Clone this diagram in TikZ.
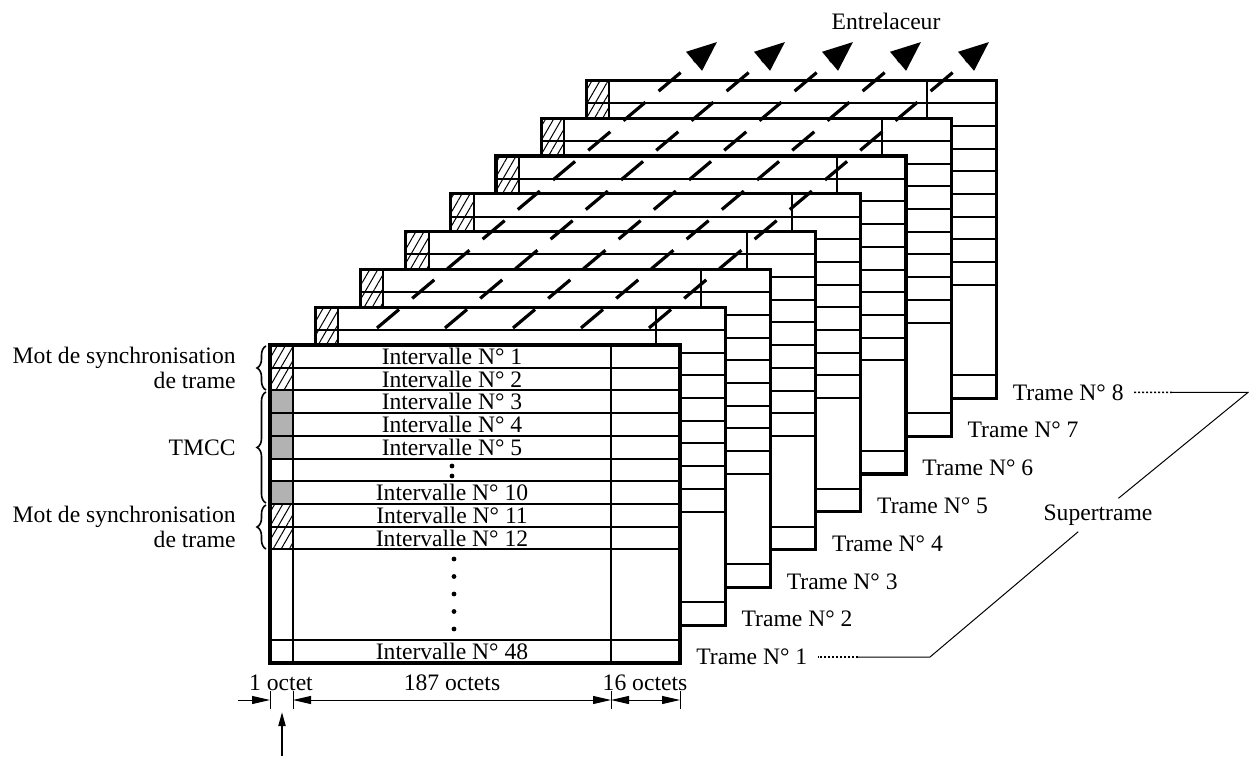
\documentclass[tikz,border=0pt]{standalone}
\usepackage{fontspec}
\setmainfont{Liberation Serif}
\usetikzlibrary{arrows.meta, patterns.meta, decorations.pathreplacing}

\tikzset{
  trameframe/.style={line width=1.6pt, fill=white},
  gridline/.style={line width=1pt},
  syncell/.style={pattern={Lines[angle=60, distance=3.5pt, line width=0.5pt]}},
  tmcccell/.style={fill=black!30},
  interleave/.style={line width=1.6pt, dash pattern=on 14.4pt off 8.6pt, -{Triangle[length=15pt, width=12pt]}},
  dimline/.style={line width=0.5pt, >={Triangle[length=9pt, width=4pt]}},
  dotline/.style={line width=0.8pt, dash pattern=on 1pt off 1pt},
  lbl/.style={inner sep=0pt, font=\fontsize{11.8}{12.4}\selectfont},
  brc/.style={decorate, decoration={brace, amplitude=4.5pt}, line width=0.8pt},
}

\begin{document}
\begin{tikzpicture}[x=0.5pt, y=-0.5pt]
  \useasboundingbox (0,0) rectangle (1249,756);

  \foreach \k in {8,7,...,1}{
    \begin{scope}[shift={({270+45.2*(\k-1)},{345-37.8*(\k-1)})}]
      \draw[trameframe] (0,0) rectangle (410,318);
      \fill[syncell] (0,0) rectangle (23,45.4);
      \fill[syncell] (0,158.9) rectangle (23,204.3);
      \fill[tmcccell] (0,45.4) rectangle (23,113.5);
      \fill[tmcccell] (0,136.2) rectangle (23,158.9);
      \foreach \r in {1,...,9}
        \draw[gridline] (0,{22.7*\r}) -- (410,{22.7*\r});
      \draw[gridline] (0,295) -- (410,295);
      \draw[gridline] (23,0) -- (23,318);
      \draw[gridline] (341,0) -- (341,318);
      \draw[trameframe, fill=none] (0,0) rectangle (410,318);
    \end{scope}
  }

  \foreach \i in {0,...,4}{
    \coordinate (s\i) at ({377+68*\i},328);
    \coordinate (t\i) at ({717+68*\i},42);
    \draw[interleave] (s\i) -- (t\i);
  }
  \node[lbl] (entrelaceur) at (886,21) {Entrelaceur};

  \foreach \r/\n in {1/1, 2/2, 3/3, 4/4, 5/5, 7/10, 8/11, 9/12, 14/48}
    \node[lbl] (iv\n) at (452,{345+22.7*(\r-0.5)}) {Intervalle N° \n};
  \fill (452,466) circle[radius=1.2pt];
  \fill (452,476) circle[radius=1.2pt];
  \foreach \y in {559,576.5,594,611.5,629}
    \fill (454,\y) circle[radius=1.2pt];

  \draw[brc] (266,390) -- (266,346);
  \draw[brc] (266,503) -- (266,392);
  \draw[brc] (266,549) -- (266,505);
  \node[lbl, anchor=east, align=right] (sync1) at (236,368) {Mot de synchronisation\\de trame};
  \node[lbl, anchor=east] (tmcc) at (236,448) {TMCC};
  \node[lbl, anchor=east, align=right] (sync2) at (236,527) {Mot de synchronisation\\de trame};

  \foreach \k in {1,...,8}
    \node[lbl, anchor=west] (trame\k) at ({696+45.2*(\k-1)},{657-37.8*(\k-1)}) {Trame N° \k};

  \node[lbl, inner sep=3pt] (super) at (1098,515) {Supertrame};
  \coordinate (d8) at (1172,392.4);
  \coordinate (b8) at (1248,392.4);
  \coordinate (d1) at (858,657);
  \coordinate (b1) at (930,657);
  \draw[dotline] ([xshift=5pt]trame8.east) -- (d8);
  \draw[dimline] (d8) -- (b8) -- (super);
  \draw[dimline] (super) -- (b1) -- (d1);
  \draw[dotline] (d1) -- ([xshift=5pt]trame1.east);

  \coordinate (c00) at (238,700);
  \coordinate (c0) at (270,700);
  \coordinate (c1) at (293,700);
  \coordinate (c2) at (611,700);
  \coordinate (c3) at (680,700);
  \foreach \x in {270,293,611,680}
    \draw[dimline] (\x,691) -- (\x,709);
  \draw[dimline, ->] (c00) -- (c0);
  \draw[dimline, <->] (c1) -- (c2);
  \draw[dimline, <->] (c2) -- (c3);
  \node[lbl] (oct1) at (281,683) {1 octet};
  \node[lbl] (oct187) at (452,683) {187 octets};
  \node[lbl] (oct16) at (645,683) {16 octets};

  \coordinate (ptrbase) at (282,756);
  \coordinate (ptrtip) at (282,712);
  \draw[line width=1pt, -{Triangle[length=7pt, width=3.5pt]}] (ptrbase) -- (ptrtip);
\end{tikzpicture}
\end{document}
